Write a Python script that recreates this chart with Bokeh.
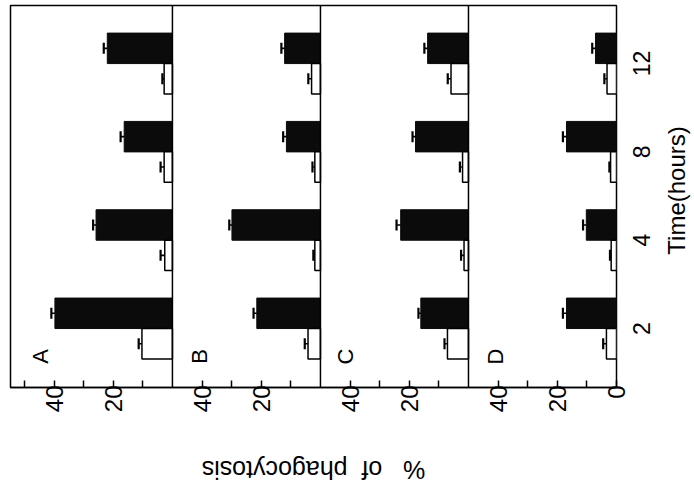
import math
from bokeh.plotting import figure
from bokeh.layouts import row, column
from bokeh.models import (Range1d, FixedTicker, Span, Whisker, TeeHead,
                          ColumnDataSource)
from bokeh.core.properties import value
from bokeh.embed import file_html
from bokeh.resources import INLINE

# ---------------- data ----------------
times = ["2", "4", "8", "12"]          # hours, bottom -> top
panels = ["A", "B", "C", "D"]

treated_A = [39.7, 25.8, 16.3, 22.0]
treated_A_err = [1.2, 1.0, 1.2, 1.2]
control_A = [10.3, 2.6, 2.8, 2.8]
control_A_err = [1.1, 1.4, 1.2, 0.6]

treated_B = [21.5, 29.9, 11.5, 12.1]
treated_B_err = [1.1, 0.9, 1.1, 1.1]
control_B = [4.2, 1.9, 1.9, 3.0]
control_B_err = [1.1, 0.5, 0.8, 1.1]

treated_C = [16.1, 22.9, 17.9, 13.8]
treated_C_err = [0.8, 1.4, 1.0, 1.1]
control_C = [7.1, 1.5, 2.0, 5.9]
control_C_err = [1.0, 1.0, 0.9, 1.1]

treated_D = [16.9, 10.2, 16.9, 7.1]
treated_D_err = [1.2, 1.1, 1.2, 1.1]
control_D = [3.4, 1.8, 2.0, 3.2]
control_D_err = [1.1, 0.4, 0.4, 0.9]

value_ticks = [10, 20, 30, 40]
value_labels = {20: "20", 40: "40"}
x_title = "%\u00a0\u00a0\u00a0of\u00a0\u00a0phagocytosis"
y_title = "Time(hours)"

treated = [treated_A, treated_B, treated_C, treated_D]
treated_err = [treated_A_err, treated_B_err, treated_C_err, treated_D_err]
control = [control_A, control_B, control_C, control_D]
control_err = [control_A_err, control_B_err, control_C_err, control_D_err]

# ---------------- layout constants ----------------
PANEL_BASE = [150, 100, 50, 0]      # zero of each panel on the shared axis
LETTER_OFF = [44.6, 40.8, 41.5, 40.8]
BAR_H = 0.345
OFF = 0.172
FONT = "Liberation Sans"
TOP, BOTTOM = 5, 40
MAIN_H = TOP + 382 + BOTTOM

yr = Range1d(0.332, 4.657)


def blank(fig):
    fig.background_fill_color = "white"
    fig.border_fill_color = "white"
    fig.outline_line_color = None
    fig.xgrid.visible = False
    fig.ygrid.visible = False


p = figure(width=630, height=MAIN_H, output_backend="svg", toolbar_location=None,
           x_range=Range1d(204.7, 0), y_range=yr, y_axis_location=None,
           min_border_left=10, min_border_right=14,
           min_border_top=TOP, min_border_bottom=BOTTOM)
blank(p)
p.outline_line_color = "black"
p.outline_line_width = 1.5

dark = dict(y=[], left=[], right=[], lo=[], hi=[])
light = dict(y=[], left=[], right=[], lo=[], hi=[])
for k, base in enumerate(PANEL_BASE):
    for i in range(len(times)):
        t = i + 1
        v = treated[k][i]
        dark["y"].append(t + OFF)
        dark["left"].append(base)
        dark["right"].append(base + v)
        dark["lo"].append(base + v)
        dark["hi"].append(base + v + treated_err[k][i])
        c = control[k][i]
        light["y"].append(t - OFF)
        light["left"].append(base)
        light["right"].append(base + c)
        light["lo"].append(base + c)
        light["hi"].append(base + c + control_err[k][i])

src_d = ColumnDataSource(dark)
src_l = ColumnDataSource(light)

p.hbar(y="y", left="left", right="right", height=BAR_H, source=src_d,
       fill_color="#0b0b0b", line_color="#0b0b0b", line_width=1)
p.hbar(y="y", left="left", right="right", height=BAR_H, source=src_l,
       fill_color="white", line_color="black", line_width=1.5)

for src in (src_d, src_l):
    w = Whisker(source=src, base="y", lower="lo", upper="hi", dimension="width",
                line_color="black", line_width=1.6, lower_head=None,
                upper_head=TeeHead(size=11, line_width=2.2, line_color="black"),
                level="overlay")
    p.add_layout(w)

for base in PANEL_BASE[:3]:
    p.add_layout(Span(location=base, dimension="height", line_color="black",
                      line_width=1.5))

lx = [b + o for b, o in zip(PANEL_BASE, LETTER_OFF)]
p.text(x=lx, y=[0.683] * 4, text=panels, angle=math.pi / 2,
       text_font=value(FONT), text_font_size="22px", text_align="center",
       text_baseline="middle", text_color="black")

ticks = []
overrides = {}
for base in PANEL_BASE:
    for tv in value_ticks:
        ticks.append(base + tv)
        overrides[base + tv] = value_labels.get(tv, "")
ticks.append(PANEL_BASE[0] + 50)
overrides[PANEL_BASE[0] + 50] = ""
ticks.append(0)
overrides[0] = "0"
xa = p.xaxis[0]
xa.ticker = FixedTicker(ticks=sorted(ticks))
xa.major_label_overrides = overrides
xa.major_label_orientation = math.pi / 2
xa.major_tick_in = 7
xa.major_tick_out = 0
xa.minor_tick_line_color = None
xa.major_tick_line_width = 1.5
xa.axis_line_width = 1.5
xa.axis_line_color = "black"
xa.major_label_text_font = FONT
xa.major_label_text_font_size = "24px"
xa.major_label_text_color = "black"
xa.major_label_standoff = -2

# ---- right strip: time labels and the time title ----
side = figure(width=63, height=MAIN_H, output_backend="svg", toolbar_location=None,
              x_range=Range1d(0, 63), y_range=yr, x_axis_location=None,
              y_axis_location=None, min_border_left=0, min_border_right=0,
              min_border_top=TOP, min_border_bottom=BOTTOM)
blank(side)
side.text(x=[11] * len(times), y=[i + 1 for i in range(len(times))], text=times,
          angle=math.pi / 2, text_font=value(FONT), text_font_size="23px",
          text_align="center", text_baseline="middle", text_color="black")
side.text(x=[46], y=[2.563], text=[y_title], angle=math.pi / 2,
          text_font=value(FONT), text_font_size="24px", text_align="center",
          text_baseline="middle", text_color="black")

# ---- bottom strip: value-axis title ----
strip = figure(width=693, height=61, output_backend="svg", toolbar_location=None,
               x_range=Range1d(0, 693), y_range=Range1d(61, 0),
               x_axis_location=None, y_axis_location=None, min_border=0)
blank(strip)
strip.text(x=[313], y=[42], text=[x_title], angle=math.pi,
           text_font=value(FONT), text_font_size="25px", text_align="center",
           text_baseline="middle", text_color="black")

layout = column(row(p, side), strip)
open("out.html", "w").write(file_html(layout, INLINE))
